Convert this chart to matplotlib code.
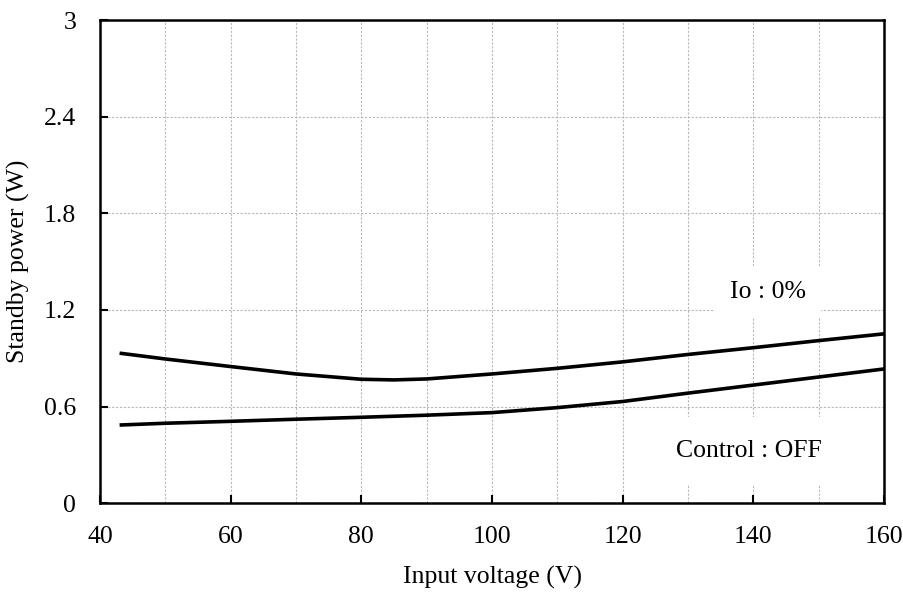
import matplotlib
matplotlib.use("Agg")
import matplotlib.pyplot as plt
from matplotlib.ticker import MultipleLocator

plt.rcParams["font.family"] = ["Liberation Serif", "DejaVu Serif"]

# values
x_upper = [43, 50, 60, 70, 80, 85, 90, 100, 110, 120, 130, 140, 150, 160]
y_upper = [0.932, 0.896, 0.849, 0.803, 0.770, 0.766, 0.772, 0.803, 0.838, 0.878, 0.924, 0.966, 1.010, 1.052]

x_lower = [43, 50, 60, 70, 80, 90, 100, 110, 120, 130, 140, 150, 160]
y_lower = [0.486, 0.497, 0.509, 0.522, 0.534, 0.547, 0.563, 0.594, 0.632, 0.684, 0.734, 0.784, 0.834]

x_ticks = [40, 60, 80, 100, 120, 140, 160]
y_ticks = [0, 0.6, 1.2, 1.8, 2.4, 3]
y_tick_labels = ["0", "0.6", "1.2", "1.8", "2.4", "3"]

fs = 18.5

fig = plt.figure(figsize=(9.04, 5.92), dpi=100)
ax = fig.add_axes([0.1106, 0.1498, 0.8673, 0.8164])

ax.plot(x_upper, y_upper, color="black", lw=2.6, solid_capstyle="butt", zorder=3)
ax.plot(x_lower, y_lower, color="black", lw=2.6, solid_capstyle="butt", zorder=3)

ax.set_xlim(40, 160)
ax.set_ylim(0, 3)
ax.set_xticks(x_ticks)
ax.xaxis.set_minor_locator(MultipleLocator(10))
ax.set_yticks(y_ticks)
ax.set_yticklabels(y_tick_labels)

ax.grid(which="major", axis="y", color="#b8b8b8", ls=(0, (2, 1.5)), lw=0.8, zorder=0)
ax.grid(which="both", axis="x", color="#b8b8b8", ls=(0, (2, 1.5)), lw=0.8, zorder=0)
ax.set_axisbelow(True)

ax.tick_params(which="major", direction="in", length=6, width=1.5, labelsize=fs)
ax.tick_params(axis="x", pad=16)
ax.tick_params(axis="y", pad=17)
ax.tick_params(which="minor", length=0)

for s in ax.spines.values():
    s.set_linewidth(1.8)
    s.set_color("black")

ax.set_xlabel("Input voltage (V)", fontsize=fs, labelpad=13)
ax.set_ylabel("Standby power (W)", fontsize=fs, labelpad=10)

ax.text(142.2, 1.312, "Io : 0%", fontsize=fs, ha="center", va="center", zorder=2,
        bbox=dict(boxstyle="square,pad=0.6", fc="white", ec="none"))
ax.text(139.3, 0.325, "Control : OFF", fontsize=fs, ha="center", va="center", zorder=2,
        bbox=dict(boxstyle="square,pad=0.9", fc="white", ec="none"))

fig.savefig("out.png", dpi=100)
